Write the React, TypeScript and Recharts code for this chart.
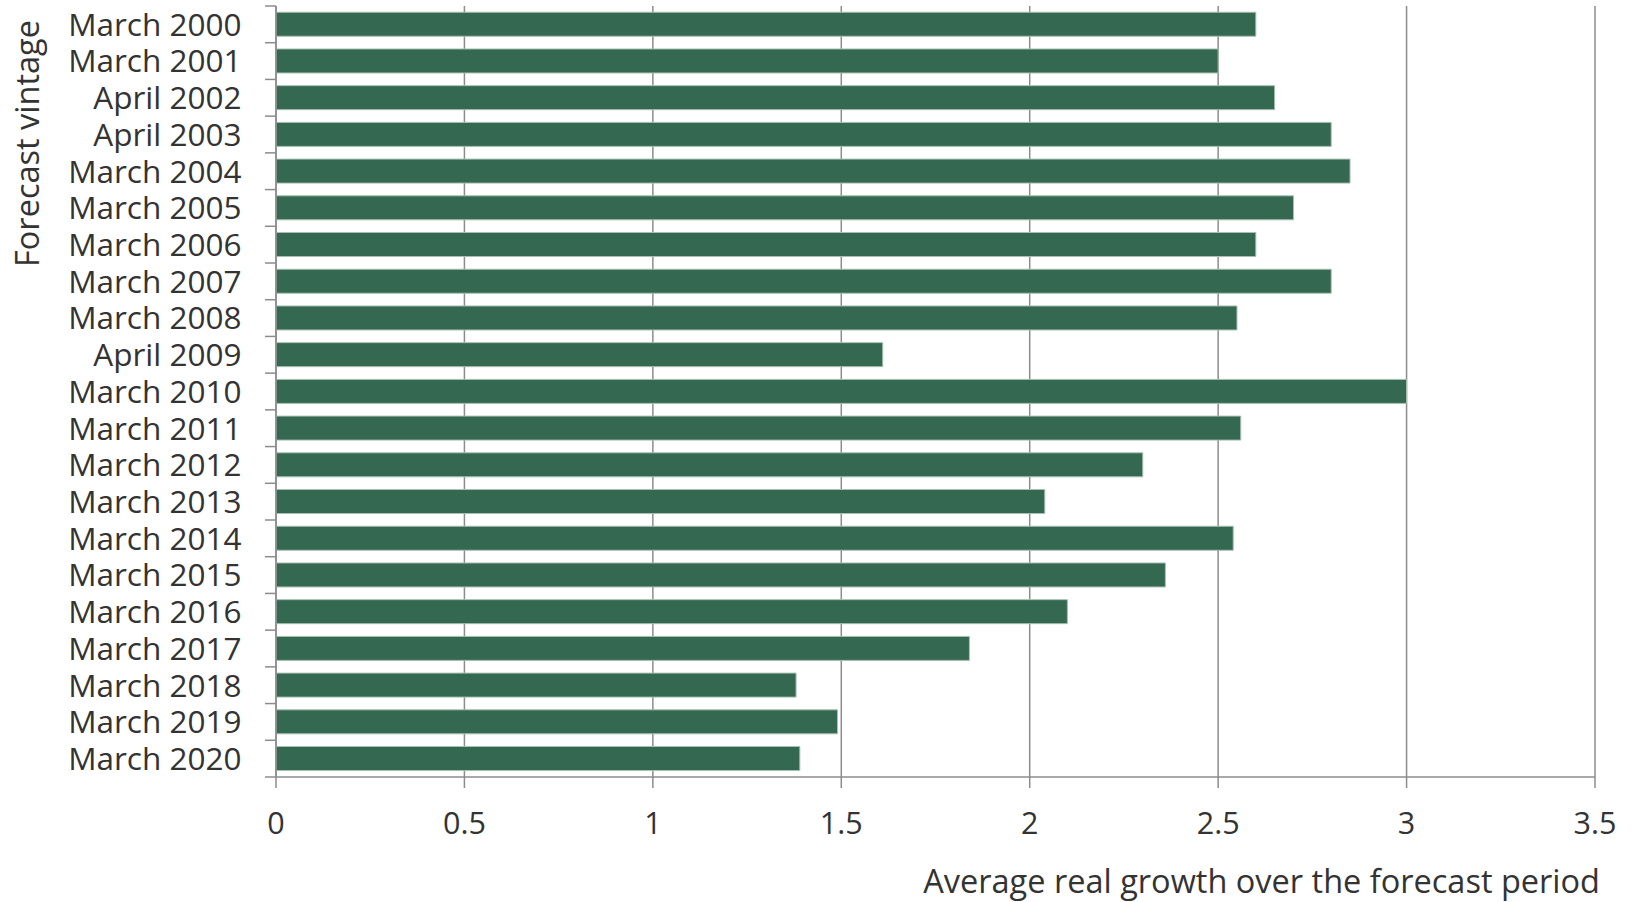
import { BarChart, Bar, XAxis, YAxis, CartesianGrid, Label } from 'recharts';

const vintages = [
  'March 2000', 'March 2001', 'April 2002', 'April 2003', 'March 2004',
  'March 2005', 'March 2006', 'March 2007', 'March 2008', 'April 2009',
  'March 2010', 'March 2011', 'March 2012', 'March 2013', 'March 2014',
  'March 2015', 'March 2016', 'March 2017', 'March 2018', 'March 2019',
  'March 2020',
];

const avgGrowth = [
  2.6, 2.5, 2.65, 2.8, 2.85,
  2.7, 2.6, 2.8, 2.55, 1.61,
  3.0, 2.56, 2.3, 2.04, 2.54,
  2.36, 2.1, 1.84, 1.38, 1.49,
  1.39,
];

const xTicks = [0, 0.5, 1, 1.5, 2, 2.5, 3, 3.5];

const data = vintages.map((label, i) => ({ label, value: avgGrowth[i] }));

const WIDTH = 1633;
const HEIGHT = 902;
const MARGIN = { top: 6, right: 38, bottom: 0, left: 0 };
const X_AXIS_HEIGHT = 125;
const Y_AXIS_WIDTH = 276;
const FONT = '"Open Sans", sans-serif';
const TEXT = '#333333';
const AXIS = '#8c8c8c';
const BAR = '#346850';

// height of one category band, used to put the y ticks between bars
const band = (HEIGHT - MARGIN.top - MARGIN.bottom - X_AXIS_HEIGHT) / vintages.length;

function VintageTick(props: any) {
  const { x, y, payload, index } = props;
  const last = index === vintages.length - 1;
  return (
    <g>
      <line x1={x - 11} x2={x} y1={y - band / 2} y2={y - band / 2} stroke={AXIS} strokeWidth={1.5} />
      {last && (
        <line x1={x - 11} x2={x} y1={y + band / 2} y2={y + band / 2} stroke={AXIS} strokeWidth={1.5} />
      )}
      <text
        x={x - 34.5}
        y={y}
        dy="0.36em"
        textAnchor="end"
        fill={TEXT}
        fontFamily={FONT}
        fontSize={31.5}
      >
        {payload.value}
      </text>
    </g>
  );
}

export default function App() {
  return (
    <div style={{ position: 'absolute', left: 0, top: 0, width: WIDTH, height: HEIGHT, background: '#fff' }}>
      <BarChart
        width={WIDTH}
        height={HEIGHT}
        data={data}
        layout="vertical"
        margin={MARGIN}
        barCategoryGap="17%"
      >
        <CartesianGrid horizontal={false} stroke={AXIS} strokeWidth={1.5} />
        <XAxis
          type="number"
          domain={[0, 3.5]}
          ticks={xTicks}
          height={X_AXIS_HEIGHT}
          axisLine={{ stroke: AXIS, strokeWidth: 1.5 }}
          tickLine={{ stroke: AXIS, strokeWidth: 1.5 }}
          tickSize={11}
          tickMargin={24}
          tick={{ fill: TEXT, fontFamily: FONT, fontSize: 30.5 }}
          interval={0}
        >
          <Label
            content={({ viewBox }: any) => (
              <text
                x={viewBox.x + viewBox.width + 5}
                y={viewBox.y + 115.5}
                textAnchor="end"
                fill={TEXT}
                fontFamily={FONT}
                fontSize={32.5}
              >
                Average real growth over the forecast period
              </text>
            )}
          />
        </XAxis>
        <YAxis
          type="category"
          dataKey="label"
          width={Y_AXIS_WIDTH}
          axisLine={{ stroke: AXIS, strokeWidth: 1.5 }}
          tickLine={false}
          tickSize={0}
          tickMargin={0}
          tick={<VintageTick />}
          interval={0}
        >
          <Label
            content={() => (
              <text
                transform="translate(39, 143.5) rotate(-90)"
                textAnchor="middle"
                fill={TEXT}
                fontFamily={FONT}
                fontSize={32.5}
              >
                Forecast vintage
              </text>
            )}
          />
        </YAxis>
        <Bar dataKey="value" fill={BAR} stroke="#a8c0b2" strokeWidth={1} isAnimationActive={false} />
      </BarChart>
    </div>
  );
}
